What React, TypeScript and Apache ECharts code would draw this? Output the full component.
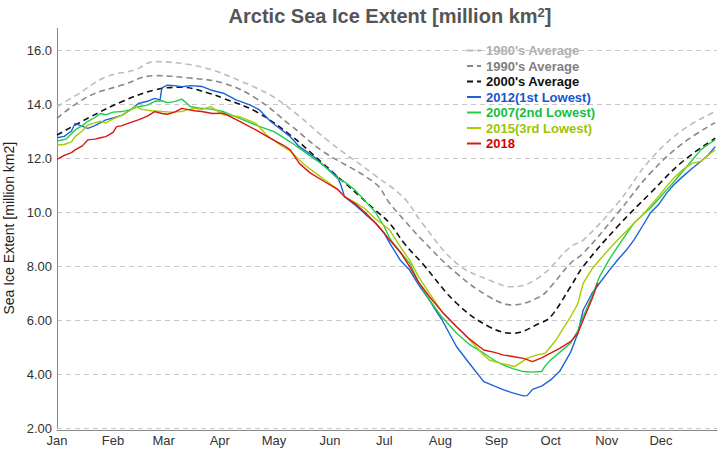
import React, { useEffect, useRef } from "react";
import * as echarts from "echarts";

const monthNames = ["Jan", "Feb", "Mar", "Apr", "May", "Jun", "Jul", "Aug", "Sep", "Oct", "Nov", "Dec"];
const monthStartDays = [0, 31, 59, 90, 120, 151, 181, 212, 243, 273, 304, 334];
const yTicks = [2, 4, 6, 8, 10, 12, 14, 16];

const avg1980: [number, number][] = [
  [0, 13.9], [10, 14.3], [27, 15.0], [43, 15.26], [54, 15.57], [72, 15.47], [86, 15.26], [98, 14.95],
  [110, 14.6], [120, 14.25], [134, 13.55], [150, 12.63], [176, 11.35], [192, 10.51], [202, 9.58], [221, 8.1],
  [239, 7.48], [252, 7.23], [267, 7.6], [284, 8.71], [291, 8.96], [310, 10.32], [328, 11.93], [346, 13.04],
  [364, 13.72],
];
const avg1990: [number, number][] = [
  [0, 13.47], [17, 14.27], [36, 14.7], [54, 15.05], [72, 14.97], [92, 14.77], [110, 14.21], [129, 13.22],
  [147, 12.25], [176, 11.06], [184, 10.32], [192, 9.7], [202, 8.96], [221, 7.73], [239, 6.86], [252, 6.56],
  [267, 6.86], [273, 7.23], [284, 8.1], [291, 8.47], [310, 9.95], [328, 11.43], [346, 12.54], [364, 13.31],
];
const avg2000: [number, number][] = [
  [0, 12.85], [17, 13.47], [36, 14.09], [54, 14.52], [69, 14.62], [84, 14.4], [92, 14.21], [110, 13.72],
  [129, 12.85], [147, 11.8], [176, 10.07], [184, 9.58], [192, 8.84], [202, 8.1], [221, 6.62], [239, 5.75],
  [252, 5.51], [267, 5.88], [273, 6.12], [284, 7.23], [291, 7.98], [310, 9.46], [328, 10.69], [346, 11.87],
  [364, 12.73],
];
const y2012: [number, number][] = [
  [0, 12.75], [4, 12.8], [8, 13.0], [10, 13.28], [13, 13.2], [17, 13.1], [21, 13.2], [27, 13.41], [32, 13.5],
  [36, 13.59], [41, 13.8], [45, 14.02], [50, 14.1], [54, 14.21], [57, 14.15], [58, 14.6], [61, 14.7], [65, 14.68],
  [69, 14.64], [74, 14.68], [80, 14.65], [85, 14.52], [92, 14.4], [99, 14.15], [107, 13.96], [112, 13.78],
  [118, 13.36], [123, 13.1], [129, 12.79], [134, 12.42], [142, 12.05], [147, 11.75], [155, 11.31],
  [157, 11.0], [159, 10.57], [165, 10.25], [170, 9.95], [176, 9.6], [181, 9.21], [184, 8.85], [190, 8.2],
  [195, 7.85], [200, 7.3], [206, 6.74], [210, 6.3], [213, 6.0], [217, 5.5], [221, 5.01], [228, 4.4], [236, 3.72],
  [242, 3.55], [247, 3.41], [252, 3.3], [258, 3.19], [260, 3.2], [263, 3.43], [268, 3.55], [273, 3.78],
  [278, 4.1], [284, 4.8], [288, 5.5], [291, 6.37], [296, 7.0], [300, 7.36], [305, 7.8], [310, 8.22], [315, 8.6],
  [319, 8.96], [324, 9.5], [328, 9.95], [333, 10.3], [337, 10.69], [341, 11.0], [346, 11.31], [351, 11.6],
  [356, 11.87], [360, 12.1], [364, 12.42],
];
const y2007: [number, number][] = [
  [0, 12.63], [5, 12.7], [8, 12.9], [10, 13.04], [14, 13.2], [17, 13.36], [21, 13.5], [24, 13.65], [27, 13.6],
  [31, 13.7], [36, 13.72], [40, 13.78], [45, 13.9], [50, 13.96], [54, 14.1], [58, 14.12], [61, 14.05], [65, 14.09],
  [69, 14.18], [74, 13.9], [80, 13.84], [86, 13.8], [92, 13.72], [101, 13.47], [110, 13.22], [120, 12.98],
  [129, 12.6], [138, 12.17], [147, 11.75], [155, 11.25], [159, 11.12], [165, 10.8], [170, 10.44], [176, 10.0],
  [181, 9.46], [184, 9.02], [190, 8.5], [195, 8.1], [200, 7.4], [206, 6.74], [213, 6.1], [221, 5.51], [228, 5.1],
  [236, 4.77], [242, 4.5], [247, 4.33], [252, 4.2], [258, 4.09], [263, 4.07], [268, 4.09], [270, 4.3], [273, 4.52],
  [278, 4.8], [284, 5.14], [288, 5.6], [291, 6.12], [296, 6.9], [300, 7.6], [305, 8.2], [310, 8.71], [315, 9.2],
  [319, 9.58], [324, 9.9], [328, 10.14], [333, 10.5], [337, 10.81], [341, 11.1], [346, 11.5], [351, 11.9],
  [356, 12.3], [360, 12.5], [364, 12.67],
];
const y2015: [number, number][] = [
  [0, 12.48], [4, 12.5], [8, 12.6], [10, 12.79], [14, 13.0], [17, 13.22], [21, 13.3], [24, 13.36], [27, 13.3],
  [31, 13.45], [36, 13.59], [40, 13.75], [43, 13.9], [47, 13.8], [52, 13.75], [58, 13.72], [63, 13.7], [69, 13.72],
  [72, 13.78], [76, 13.84], [80, 13.8], [85, 13.9], [92, 13.6], [101, 13.53], [110, 13.28], [116, 12.85],
  [121, 12.6], [129, 12.25], [137, 11.74], [148, 11.19], [155, 10.85], [159, 10.57], [165, 10.35], [170, 10.14],
  [176, 9.75], [181, 9.5], [184, 9.33], [190, 8.7], [195, 8.22], [200, 7.6], [206, 6.99], [213, 6.3], [221, 5.75],
  [225, 5.5], [230, 5.14], [236, 4.7], [239, 4.52], [245, 4.4], [250, 4.33], [253, 4.27], [256, 4.4], [260, 4.58],
  [265, 4.7], [270, 4.77], [276, 5.26], [280, 5.7], [284, 6.12], [288, 6.6], [291, 7.36], [296, 7.9], [300, 8.22],
  [305, 8.6], [310, 8.96], [315, 9.3], [319, 9.58], [324, 9.9], [328, 10.21], [333, 10.6], [337, 10.94],
  [341, 11.25], [346, 11.56], [351, 11.8], [356, 11.87], [360, 12.1], [364, 12.3],
];
const y2018: [number, number][] = [
  [0, 11.95], [4, 12.1], [8, 12.2], [10, 12.3], [14, 12.45], [17, 12.67], [21, 12.7], [24, 12.75], [27, 12.79],
  [31, 12.95], [33, 13.16], [36, 13.2], [40, 13.3], [45, 13.41], [50, 13.55], [54, 13.72], [58, 13.65],
  [61, 13.62], [65, 13.7], [69, 13.84], [72, 13.8], [76, 13.75], [80, 13.72], [86, 13.65], [92, 13.66],
  [101, 13.36], [110, 13.04], [118, 12.73], [125, 12.48], [129, 12.3], [134, 11.8], [140, 11.45], [148, 11.12],
  [155, 10.85], [159, 10.57], [165, 10.3], [170, 10.01], [176, 9.6], [181, 9.21], [184, 8.96], [190, 8.5],
  [195, 7.98], [200, 7.4], [206, 6.86], [213, 6.3], [221, 5.75], [228, 5.3], [236, 4.89], [242, 4.8], [247, 4.7],
  [252, 4.65], [258, 4.58], [263, 4.46], [268, 4.6], [273, 4.77], [278, 4.95], [284, 5.2], [288, 5.5], [291, 6.0],
  [296, 6.8], [299, 7.36],
];

const seriesDefs = [
  { name: "1980's Average", data: avg1980, color: "#bdbdbd", text: "#b0b0b0", dashed: true },
  { name: "1990's Average", data: avg1990, color: "#888888", text: "#808080", dashed: true },
  { name: "2000's Average", data: avg2000, color: "#111111", text: "#111111", dashed: true },
  { name: "2012(1st Lowest)", data: y2012, color: "#1b63d8", text: "#1655cc", dashed: false },
  { name: "2007(2nd Lowest)", data: y2007, color: "#22cc4a", text: "#14c040", dashed: false },
  { name: "2015(3rd Lowest)", data: y2015, color: "#a8cc00", text: "#a0c400", dashed: false },
  { name: "2018", data: y2018, color: "#dd1515", text: "#d40000", dashed: false },
];

const FONT = "'Liberation Sans', Arial, sans-serif";

export default function App() {
  const ref = useRef<HTMLDivElement>(null);
  useEffect(() => {
    if (!ref.current) return;
    const chart = echarts.init(ref.current, undefined, { renderer: "svg" });
    const days = Array.from({ length: 366 }, (_, i) => String(i));
    chart.setOption({
      animation: false,
      backgroundColor: "#ffffff",
      textStyle: { fontFamily: FONT },
      title: {
        text: "{t|Arctic Sea Ice Extent [million km}{s|2}{t|]}",
        left: 385,
        top: 1,
        textAlign: "center",
        textStyle: {
          rich: {
            t: { fontSize: 20, fontWeight: "bold", color: "#555555", fontFamily: FONT },
            s: { fontSize: 13, fontWeight: "bold", color: "#555555", fontFamily: FONT, verticalAlign: "top" },
          },
        },
      },
      legend: {
        orient: "vertical",
        left: 461,
        top: 39,
        itemGap: 2.5,
        itemWidth: 14,
        itemHeight: 10,
        itemStyle: { opacity: 0, borderWidth: 0 },
        textStyle: { fontSize: 13, fontWeight: "bold", fontFamily: FONT },
        data: seriesDefs.map((s) => ({ name: s.name, textStyle: { color: s.text } })),
      },
      grid: { left: 57, right: 3, top: 28.4, bottom: 22, containLabel: false, outerBoundsMode: "none" },
      xAxis: {
        type: "category",
        data: days,
        boundaryGap: false,
        offset: 2,
        axisLine: { lineStyle: { color: "#888888", width: 1 } },
        axisTick: { show: false },
        splitLine: { show: false },
        axisLabel: {
          interval: (index: number) => monthStartDays.includes(index),
          formatter: (_v: string, index: number) => {
            const m = monthStartDays.indexOf(index);
            return m >= 0 ? monthNames[m] : "";
          },
          color: "#333333",
          fontSize: 13,
          margin: 4,
          fontFamily: FONT,
        },
      },
      yAxis: {
        type: "value",
        min: 2,
        max: 16.8,
        interval: 2,
        name: "Sea Ice Extent [million km2]",
        nameLocation: "middle",
        nameGap: 40,
        nameTextStyle: { fontSize: 14, color: "#222222", fontFamily: FONT },
        axisLine: { show: true, lineStyle: { color: "#888888", width: 1 } },
        axisTick: { show: false },
        axisLabel: {
          showMaxLabel: false,
          color: "#333333",
          fontSize: 13,
          margin: 5,
          fontFamily: FONT,
          formatter: (v: number) => (yTicks.includes(v) ? (v >= 10 ? v.toFixed(1) : v.toFixed(2)) : ""),
        },
        splitLine: {
          show: true,
          lineStyle: {
            type: [5, 4],
            color: ["#c8c8c8", "#c8c8c8", "#c8c8c8", "#c8c8c8", "#c8c8c8", "#c8c8c8", "#c8c8c8", "#c8c8c8", "rgba(0,0,0,0)"],
          },
        },
      },
      series: seriesDefs.map((s) => ({
        name: s.name,
        type: "line",
        data: s.data,
        showSymbol: false,
        symbol: "none",
        smooth: s.dashed ? 0.4 : false,
        color: s.color,
        lineStyle: { color: s.color, width: s.dashed ? 1.6 : 1.4, type: s.dashed ? [6, 4] : "solid" },
      })),
    });
    return () => chart.dispose();
  }, []);
  return <div ref={ref} style={{ position: "fixed", left: 0, top: 0, width: 720, height: 450 }} />;
}
